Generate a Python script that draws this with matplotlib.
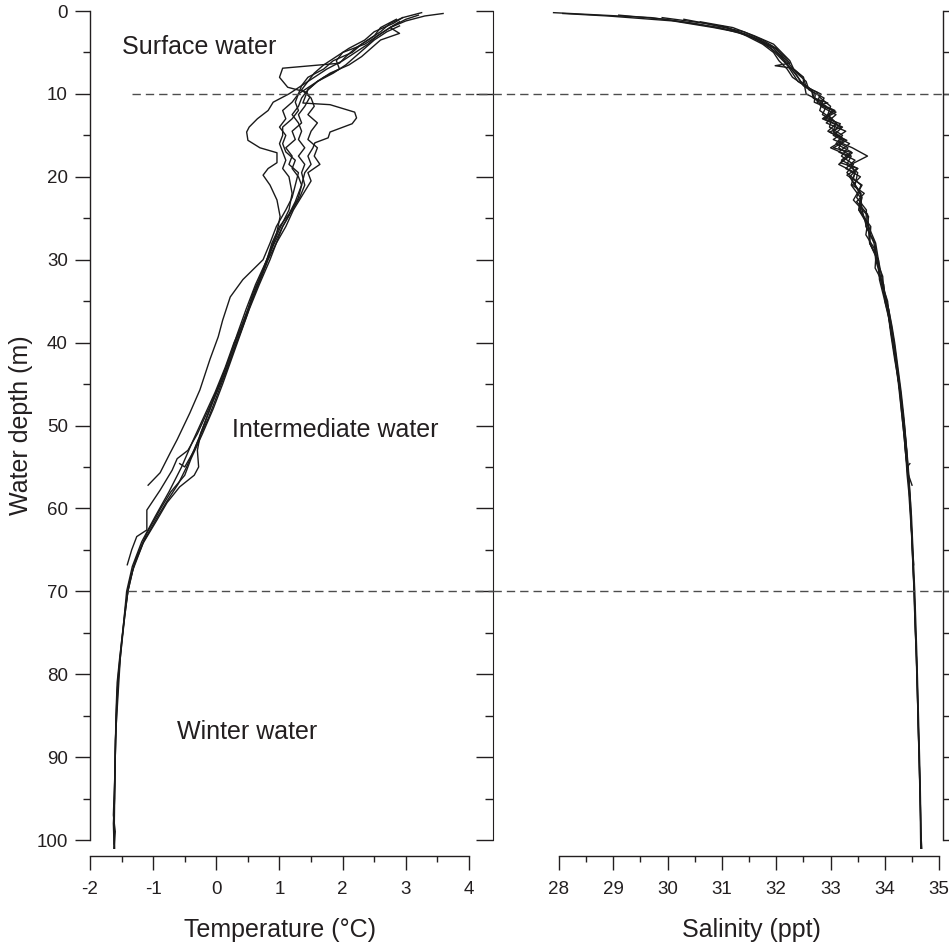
import matplotlib
matplotlib.use("Agg")
import matplotlib.pyplot as plt
from matplotlib.ticker import MultipleLocator, FixedLocator

plt.rcParams['font.family'] = ['Liberation Sans', 'DejaVu Sans']

# ---------------- data (depth m, temperature degC, salinity ppt) ----------------
depth_1 = [0.5, 1, 2, 3, 4, 5, 6, 7, 8, 9, 10, 11, 12, 13, 14, 14.6, 15.6, 16.5, 17.1, 18.3,
           19, 19.8, 21, 22.8, 24.8, 27, 29, 31, 33, 35, 37, 40, 43, 46, 49, 52, 55, 57, 59, 61,
           64, 67, 70, 73, 78, 82, 86, 90, 95, 101]
temp_1 = [3.2, 3.0, 2.75, 2.55, 2.4, 2.2, 2.0, 1.75, 1.55, 1.35, 1.15, 0.9, 0.82, 0.65, 0.52,
          0.48, 0.5, 0.69, 0.96, 0.96, 0.82, 0.74, 0.85, 0.96, 1.01, 0.95, 0.86, 0.76, 0.66, 0.56,
          0.47, 0.32, 0.18, 0.03, -0.12, -0.3, -0.47, -0.6, -0.77, -0.93, -1.15, -1.31, -1.4,
          -1.45, -1.52, -1.57, -1.59, -1.6, -1.61, -1.62]
sal_1 = [29.1, 29.95, 30.95, 31.5, 31.8, 32.0, 32.15, 32.28, 32.4, 32.5, 32.72, 32.7, 33.05,
         32.85, 33.2, 32.98, 33.3, 33.05, 33.4, 33.18, 33.5, 33.3, 33.58, 33.42, 33.7, 33.65,
         33.84, 33.82, 33.98, 34.0, 34.08, 34.15, 34.22, 34.28, 34.33, 34.37, 34.41, 34.44,
         34.46, 34.48, 34.5, 34.52, 34.54, 34.55, 34.58, 34.6, 34.61, 34.63, 34.65, 34.67]

depth_2 = [0.2, 0.8, 1.5, 2.5, 3.5, 4.5, 5.5, 6.3, 6.6, 6.9, 8, 9.2, 9.8, 10.4, 11.5, 12.5, 13.5,
           14.5, 15.5, 16.5, 17.5, 18.5, 19.5, 21, 22.5, 24, 26, 28, 30, 32.4, 34.5, 37.3, 39.3,
           42, 45.7, 48.5, 51.7, 53.3, 55.7, 57.2]
temp_2 = [3.25, 2.95, 2.75, 2.6, 2.4, 2.2, 2.05, 1.95, 1.5, 1.05, 1.0, 1.13, 1.43, 1.48, 1.4,
          1.3, 1.35, 1.2, 1.25, 1.1, 1.2, 1.15, 1.3, 1.25, 1.2, 1.1, 0.95, 0.85, 0.74, 0.42,
          0.22, 0.1, 0.03, -0.1, -0.26, -0.42, -0.62, -0.73, -0.89, -1.08]
sal_2 = [27.9, 29.7, 30.5, 31.3, 31.7, 31.98, 32.15, 32.25, 31.98, 32.3, 32.5, 32.55, 32.75,
         32.8, 33.0, 32.95, 33.1, 33.05, 33.25, 33.0, 33.35, 33.15, 33.45, 33.38, 33.55, 33.52,
         33.74, 33.72, 33.88, 33.9, 33.98, 34.08, 34.13, 34.2, 34.27, 34.31, 34.36, 34.38,
         34.42, 34.5]

depth_3 = [0.3, 0.6, 1.2, 2, 2.7, 3.5, 4.5, 5.5, 6.5, 7.5, 8.5, 9.5, 10.5, 11.1, 11.3, 12.2,
           12.9, 13.6, 14.6, 15.3, 15.9, 16.5, 17.5, 18.5, 19.5, 21, 22.5, 24, 26, 28, 30, 32,
           34, 36, 38, 40, 43, 46, 49, 51, 53, 55, 56, 57.4, 59.3, 61.4, 64.2, 67.4, 70, 73, 78,
           81, 85, 90, 95, 98, 100.5]
temp_3 = [3.59, 3.3, 3.0, 2.75, 2.9, 2.6, 2.45, 2.3, 2.1, 1.8, 1.6, 1.45, 1.4, 1.37, 1.8, 2.19,
          2.22, 2.15, 1.8, 1.77, 1.56, 1.53, 1.45, 1.5, 1.4, 1.35, 1.3, 1.2, 1.05, 0.92, 0.8,
          0.7, 0.6, 0.5, 0.4, 0.3, 0.15, 0.0, -0.15, -0.25, -0.3, -0.28, -0.35, -0.58, -0.78,
          -0.94, -1.16, -1.32, -1.4, -1.45, -1.53, -1.57, -1.59, -1.6, -1.61, -1.63, -1.62]
sal_3 = [28.07, 28.9, 30.1, 30.85, 31.4, 31.7, 31.95, 32.1, 32.2, 32.35, 32.45, 32.65, 32.7,
         32.95, 32.8, 33.1, 32.9, 33.18, 33.05, 33.2, 33.15, 33.32, 33.2, 33.42, 33.3, 33.56,
         33.48, 33.66, 33.65, 33.82, 33.84, 33.96, 33.98, 34.07, 34.12, 34.17, 34.23, 34.29,
         34.34, 34.36, 34.38, 34.41, 34.42, 34.45, 34.47, 34.48, 34.5, 34.52, 34.54, 34.55,
         34.58, 34.59, 34.61, 34.63, 34.65, 34.66, 34.67]

depth_4 = [1, 2, 3, 4, 5, 6, 7, 8, 9, 10, 11, 12, 13, 14, 15, 16, 17, 18, 19, 20, 22, 24, 26,
           28, 30, 33, 36, 39, 42, 45, 48, 51, 53, 54, 55.4, 57.8, 60.2, 62.6, 63.4, 65, 66.8]
temp_4 = [2.85, 2.6, 2.5, 2.3, 2.15, 1.85, 1.7, 1.45, 1.35, 1.3, 1.25, 1.3, 1.2, 1.05, 1.05,
          1.0, 1.05, 1.1, 1.05, 1.15, 1.2, 1.15, 1.02, 0.9, 0.8, 0.62, 0.47, 0.33, 0.2, 0.05,
          -0.12, -0.3, -0.45, -0.62, -0.7, -0.89, -1.1, -1.1, -1.26, -1.34, -1.41]
sal_4 = [30.3, 31.1, 31.45, 31.75, 31.95, 32.05, 32.2, 32.3, 32.52, 32.55, 32.85, 32.8, 33.02,
         32.98, 33.22, 33.1, 33.38, 33.2, 33.5, 33.35, 33.55, 33.58, 33.66, 33.8, 33.83,
         33.96, 34.05, 34.11, 34.18, 34.26, 34.32, 34.37, 34.4, 34.41, 34.43, 34.45, 34.47,
         34.49, 34.5, 34.51, 34.53]

depth_5 = [1.3, 2, 3, 4, 5, 6, 7, 8, 9, 10, 11, 12, 13, 14, 15, 16, 17, 18, 19, 20, 21, 22, 23,
           24.5, 26, 28, 30, 32, 34, 36, 38, 40, 43, 46, 49, 52, 55, 58, 61, 64, 67, 70, 74, 78,
           83, 88, 93, 97, 99, 101]
temp_5 = [2.9, 2.75, 2.55, 2.35, 2.0, 1.9, 1.95, 1.7, 1.5, 1.3, 1.2, 1.05, 1.1, 1.0, 1.1, 1.05,
          1.1, 1.25, 1.2, 1.3, 1.35, 1.3, 1.25, 1.15, 1.0, 0.88, 0.8, 0.7, 0.58, 0.5, 0.4, 0.28,
          0.14, -0.02, -0.2, -0.38, -0.55, -0.75, -0.97, -1.18, -1.33, -1.42, -1.47, -1.52,
          -1.56, -1.6, -1.61, -1.63, -1.6, -1.62]
sal_5 = [30.6, 31.2, 31.6, 31.95, 32.1, 32.25, 32.32, 32.5, 32.5, 32.82, 32.75, 33.08, 32.88,
         33.22, 33.05, 33.35, 33.15, 33.45, 33.28, 33.55, 33.4, 33.62, 33.48, 33.68, 33.7,
         33.83, 33.88, 33.94, 34.0, 34.07, 34.13, 34.18, 34.24, 34.3, 34.35, 34.39, 34.43,
         34.46, 34.49, 34.51, 34.53, 34.55, 34.57, 34.59, 34.61, 34.63, 34.65, 34.66, 34.66,
         34.68]

depth_6 = [0.8, 1.5, 2.5, 3.5, 4.5, 5.5, 6.5, 7.5, 8.5, 9.5, 10.5, 11.5, 12.5, 13.5, 14.5, 15.5,
           16.5, 17.5, 18.5, 19.5, 20.5, 22, 24, 26, 28, 30, 33, 36, 39, 42, 45, 48, 51, 54, 56,
           58, 60, 63, 66, 69, 72, 76, 80, 85, 90, 96, 101]
temp_6 = [2.95, 2.8, 2.5, 2.35, 2.1, 1.9, 1.7, 1.55, 1.45, 1.35, 1.5, 1.55, 1.45, 1.6, 1.5,
          1.45, 1.6, 1.55, 1.64, 1.45, 1.5, 1.38, 1.22, 1.1, 0.95, 0.85, 0.68, 0.52, 0.38, 0.24,
          0.1, -0.05, -0.22, -0.4, -0.5, -0.72, -0.88, -1.1, -1.27, -1.38, -1.44, -1.5, -1.55,
          -1.58, -1.6, -1.62, -1.61]
sal_6 = [29.9, 30.7, 31.4, 31.75, 32.0, 32.12, 32.25, 32.38, 32.55, 32.6, 32.88, 32.82, 33.1,
         32.92, 33.28, 33.05, 33.4, 33.68, 33.38, 33.45, 33.4, 33.56, 33.55, 33.7, 33.72,
         33.86, 33.94, 34.05, 34.12, 34.19, 34.25, 34.3, 34.35, 34.39, 34.41, 34.44, 34.46,
         34.49, 34.51, 34.53, 34.55, 34.57, 34.59, 34.61, 34.63, 34.65, 34.66]

depth_7 = [1.8, 2.5, 3.5, 4.5, 5.5, 6.5, 7.5, 8.5, 9.5, 10.5, 11.5, 12.5, 13.5, 14.5, 15.5, 16.5,
           17.5, 18.5, 19.5, 21, 22.5, 24, 26, 28, 30, 32, 35, 38, 41, 44, 47, 50, 53, 55, 54.6]
temp_7 = [2.9, 2.7, 2.5, 2.35, 2.2, 2.05, 1.85, 1.6, 1.45, 1.35, 1.3, 1.2, 1.3, 1.35, 1.3, 1.4,
          1.3, 1.4, 1.35, 1.4, 1.32, 1.2, 1.05, 0.95, 0.82, 0.72, 0.55, 0.42, 0.27, 0.12,
          -0.05, -0.2, -0.35, -0.5, -0.58]
sal_7 = [31.0, 31.3, 31.65, 31.9, 32.05, 32.2, 32.3, 32.4, 32.65, 32.68, 32.92, 32.85, 33.12,
         32.95, 33.25, 33.15, 33.38, 33.3, 33.5, 33.45, 33.58, 33.52, 33.7, 33.72, 33.88, 33.9,
         34.05, 34.1, 34.17, 34.24, 34.3, 34.36, 34.4, 34.41, 34.46]

depths = [depth_1, depth_2, depth_3, depth_4, depth_5, depth_6, depth_7]
temps = [temp_1, temp_2, temp_3, temp_4, temp_5, temp_6, temp_7]
sals = [sal_1, sal_2, sal_3, sal_4, sal_5, sal_6, sal_7]

boundary_depths = [10, 70]
zone_labels = ["Surface water", "Intermediate water", "Winter water"]
temp_ticks = [-2, -1, 0, 1, 2, 3, 4]
sal_ticks = [28, 29, 30, 31, 32, 33, 34, 35]
depth_ticks = [0, 10, 20, 30, 40, 50, 60, 70, 80, 90, 100]

# ---------------- figure ----------------
W, H = 949, 946
fig = plt.figure(figsize=(W / 100, H / 100), dpi=100)
ink = '#231f20'
line_c = '#1a1a1a'
dash_c = '#4d4d4d'


def fx(px):
    return px / W


def fy(py):
    return 1 - py / H


top_px, bot_px = 11, 840
ax1 = fig.add_axes([fx(90), fy(bot_px), fx(493) - fx(90), fy(top_px) - fy(bot_px)])
ax2 = fig.add_axes([fx(493), fy(bot_px), fx(943) - fx(493), fy(top_px) - fy(bot_px)])
ax3 = fig.add_axes([fx(943), fy(bot_px), fx(400), fy(top_px) - fy(bot_px)])

for ax in (ax1, ax2, ax3):
    ax.set_ylim(100, 0)
    ax.patch.set_visible(False)
    for s in ax.spines.values():
        s.set_color(ink)
        s.set_linewidth(1.0)

label_y = (bot_px - 918) / (bot_px - top_px)
tick_fs = 13.5

# ---- left panel: temperature ----
ax1.set_xlim(-2, 4.38)
for d, t in zip(depths, temps):
    ax1.plot(t, d, color=line_c, lw=1.0, clip_on=False, solid_joinstyle='round')
dash_starts = [-1.34, -1.40]
for bd, x0 in zip(boundary_depths, dash_starts):
    ax1.plot([x0, 4.38], [bd, bd], color=dash_c, lw=1.0, ls=(0, (6, 3.6)), clip_on=False)

ax1.spines['top'].set_visible(False)
ax1.spines['right'].set_visible(False)
ax1.spines['bottom'].set_position(('outward', 11.5))
ax1.spines['bottom'].set_bounds(-2, 4)
ax1.xaxis.set_major_locator(FixedLocator(temp_ticks))
ax1.xaxis.set_minor_locator(MultipleLocator(0.5))
ax1.set_xticklabels([str(v) for v in temp_ticks])
ax1.tick_params(axis='x', which='major', direction='out', length=10, width=1.0,
                colors=ink, labelsize=tick_fs, pad=8)
ax1.tick_params(axis='x', which='minor', direction='out', length=4.5, width=1.0, colors=ink)

ax1.yaxis.set_major_locator(FixedLocator(depth_ticks))
ax1.yaxis.set_minor_locator(MultipleLocator(5))
ax1.set_yticklabels([str(v) for v in depth_ticks])
ax1.tick_params(axis='y', which='major', direction='out', length=11, width=1.0,
                colors=ink, labelsize=tick_fs, pad=5)
ax1.tick_params(axis='y', which='minor', direction='out', length=5, width=1.0, colors=ink)

ax1r = ax1.secondary_yaxis('right')
ax1r.set_yticks(depth_ticks)
ax1r.yaxis.set_minor_locator(MultipleLocator(5))
ax1r.tick_params(axis='y', which='major', direction='in', length=12, width=1.0,
                 colors=ink, labelright=False)
ax1r.tick_params(axis='y', which='minor', direction='in', length=6, width=1.0, colors=ink)
ax1r.spines['right'].set_color(ink)

ax1.set_xlabel("Temperature (°C)", fontsize=18, color=ink)
ax1.xaxis.set_label_coords(((90 + 469) / 2 - 90) / (493 - 90), label_y)
ax1.set_ylabel("Water depth (m)", fontsize=18, color=ink)
ax1.yaxis.set_label_coords(-0.142, 0.5)

ax1.text(-1.49, 5.2, zone_labels[0], fontsize=18, color=ink, ha='left', va='baseline')
ax1.text(0.25, 51.4, zone_labels[1], fontsize=18, color=ink, ha='left', va='baseline')
ax1.text(-0.62, 87.8, zone_labels[2], fontsize=18, color=ink, ha='left', va='baseline')

# ---- middle panel: salinity ----
ax2.set_xlim(26.785, 35.07)
for d, s in zip(depths, sals):
    ax2.plot(s, d, color=line_c, lw=1.0, clip_on=False, solid_joinstyle='round')
for bd in boundary_depths:
    ax2.axhline(bd, color=dash_c, lw=1.0, ls=(0, (6, 3.6)))
for side in ('top', 'left', 'right'):
    ax2.spines[side].set_visible(False)
ax2.spines['bottom'].set_position(('outward', 11.5))
ax2.spines['bottom'].set_bounds(28, 35)
ax2.xaxis.set_major_locator(FixedLocator(sal_ticks))
ax2.xaxis.set_minor_locator(FixedLocator([v + 0.5 for v in sal_ticks[:-1]]))
ax2.set_xticklabels([str(v) for v in sal_ticks])
ax2.tick_params(axis='x', which='major', direction='out', length=10, width=1.0,
                colors=ink, labelsize=tick_fs, pad=8)
ax2.tick_params(axis='x', which='minor', direction='out', length=4.5, width=1.0, colors=ink)
ax2.set_yticks([])
ax2.set_xlabel("Salinity (ppt)", fontsize=18, color=ink)
ax2.xaxis.set_label_coords((751 - 493) / (943 - 493), label_y)

# ---- third (cropped) panel ----
ax3.set_xlim(0, 1)
for bd in boundary_depths:
    ax3.axhline(bd, color=dash_c, lw=1.0, ls=(0, (6, 3.6)))
for side in ('top', 'right', 'bottom'):
    ax3.spines[side].set_visible(False)
ax3.set_xticks([])
ax3.yaxis.set_major_locator(FixedLocator(depth_ticks))
ax3.yaxis.set_minor_locator(MultipleLocator(5))
ax3.tick_params(axis='y', which='both', direction='in', length=5, width=1.0,
                colors=ink, labelleft=False)

fig.savefig("out.png", dpi=100)
